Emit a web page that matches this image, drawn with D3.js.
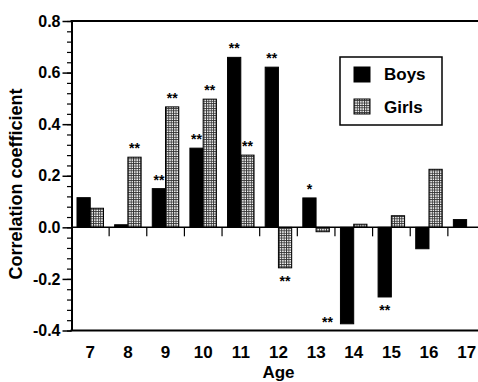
<!DOCTYPE html>
<html>
<head>
<meta charset="utf-8">
<script src="https://cdn.jsdelivr.net/npm/d3@7"></script>
<style>
  body { margin: 0; background: #fff; }
  text { font-family: "Liberation Sans", Arial, sans-serif; font-weight: bold; fill: #000; }
</style>
</head>
<body>
<div id="chart"></div>
<script>
// Data
const ages = [7, 8, 9, 10, 11, 12, 13, 14, 15, 16, 17];
const boys = [0.115, 0.01, 0.15, 0.307, 0.659, 0.621, 0.114, -0.374, -0.27, -0.083, 0.03];
const girls = [0.074, 0.272, 0.467, 0.497, 0.28, -0.157, -0.017, 0.012, 0.045, 0.225, null];
const boysSig = ["", "", "**", "**", "**", "**", "*", "**", "**", "", ""];
const girlsSig = ["", "**", "**", "**", "**", "**", "", "", "", "", ""];
const yTicks = [-0.4, -0.2, 0.0, 0.2, 0.4, 0.6, 0.8];
const series = ["Boys", "Girls"];

const W = 478, H = 382;
const plot = { left: 71.5, right: 485.5, top: 21, bottom: 330.5 };

const svg = d3.select("#chart").append("svg")
    .attr("width", W)
    .attr("height", H);

// stipple pattern for girls
const defs = svg.append("defs");
const pat = defs.append("pattern")
    .attr("id", "grid")
    .attr("patternUnits", "userSpaceOnUse")
    .attr("width", 2.4)
    .attr("height", 2.4);
pat.append("rect").attr("width", 2.4).attr("height", 2.4).attr("fill", "#333");
pat.append("rect").attr("x", 0.9).attr("y", 0.9).attr("width", 1.5).attr("height", 1.5).attr("fill", "#fff");

// Scales
const y = d3.scaleLinear().domain([-0.4, 0.8]).range([plot.bottom, plot.top]);
const x0 = d3.scaleBand().domain(ages).range([plot.left, plot.right]);
const x1 = d3.scaleBand().domain(series).range([5.5, 32]);

const rows = ages.map((a, i) => ({
    age: a,
    vals: [
        { key: "Boys", value: boys[i], sig: boysSig[i] },
        { key: "Girls", value: girls[i], sig: girlsSig[i] }
    ]
}));

// frame lines (top + bottom)
svg.append("line").attr("x1", plot.left - 1).attr("x2", W).attr("y1", plot.top).attr("y2", plot.top)
    .attr("stroke", "#000").attr("stroke-width", 2);
svg.append("line").attr("x1", plot.left - 1).attr("x2", W).attr("y1", plot.bottom).attr("y2", plot.bottom)
    .attr("stroke", "#000").attr("stroke-width", 2);

// Bars
const groups = svg.selectAll(".age")
    .data(rows)
    .enter()
    .append("g")
    .attr("class", "age")
    .attr("transform", d => `translate(${x0(d.age)},0)`);

groups.selectAll("rect")
    .data(d => d.vals.filter(v => v.value !== null))
    .enter()
    .append("rect")
    .attr("x", d => x1(d.key))
    .attr("width", x1.bandwidth())
    .attr("y", d => y(Math.max(0, d.value)))
    .attr("height", d => Math.abs(y(d.value) - y(0)))
    .attr("fill", d => d.key === "Boys" ? "#000" : "url(#grid)")
    .attr("stroke", "#000")
    .attr("stroke-width", 1);

// Significance stars
groups.selectAll(".sig")
    .data(d => d.vals.filter(v => v.sig))
    .enter()
    .append("text")
    .attr("class", "sig")
    .attr("font-size", 14)
    .attr("text-anchor", "middle")
    .each(function(d) {
        const cx = x1(d.key) + x1.bandwidth() / 2;
        let tx = cx, ty;
        if (d.value >= 0) {
            ty = y(d.value) - 4;
        } else if (y(d.value) + 18.5 > plot.bottom) {
            // no room below: put it beside the bar
            tx = x1(d.key) - 13;
            ty = y(d.value) + 3;
        } else {
            ty = y(d.value) + 18.5;
        }
        d3.select(this).attr("x", tx).attr("y", ty);
    })
    .text(d => d.sig);

// zero line + category ticks
svg.append("line").attr("x1", plot.left).attr("x2", W).attr("y1", y(0)).attr("y2", y(0))
    .attr("stroke", "#000").attr("stroke-width", 1.5);
svg.selectAll(".ctick")
    .data(ages.slice(1))
    .enter()
    .append("line")
    .attr("x1", d => x0(d)).attr("x2", d => x0(d))
    .attr("y1", y(0)).attr("y2", y(0) + 9)
    .attr("stroke", "#000").attr("stroke-width", 1.2);

// Y axis: minor ticks
const minor = d3.range(-0.4, 0.8001, 0.04).map(v => +v.toFixed(2));
svg.append("g")
    .attr("transform", `translate(${plot.left},0)`)
    .call(d3.axisLeft(y).tickValues(minor).tickSize(4.5).tickFormat(""))
    .call(g => g.select(".domain").remove())
    .selectAll("line").attr("stroke-width", 1.2);

// Y axis: major ticks
const yAxis = svg.append("g")
    .attr("transform", `translate(${plot.left},0)`)
    .call(d3.axisLeft(y).tickValues(yTicks).tickSize(9).tickSizeOuter(0).tickPadding(2)
        .tickFormat(d => d.toFixed(1)));
yAxis.select(".domain").attr("stroke-width", 2);
yAxis.selectAll("line").attr("stroke-width", 1.5);
yAxis.selectAll("text")
    .attr("font-size", 16)
    .attr("font-family", "Liberation Sans, Arial, sans-serif")
    .attr("font-weight", "bold");

// X labels
svg.selectAll(".xlab")
    .data(ages)
    .enter()
    .append("text")
    .attr("class", "xlab")
    .attr("x", d => x0(d) + x0.bandwidth() / 2)
    .attr("y", 358)
    .attr("text-anchor", "middle")
    .attr("font-size", 17)
    .text(d => d);

// Axis titles
svg.append("text")
    .attr("x", (plot.left + plot.right) / 2)
    .attr("y", 378)
    .attr("text-anchor", "middle")
    .attr("font-size", 17)
    .text("Age");

svg.append("text")
    .attr("transform", "rotate(-90)")
    .attr("x", -184)
    .attr("y", 22)
    .attr("text-anchor", "middle")
    .attr("font-size", 18)
    .text("Correlation coefficient");

// Legend
const legend = svg.append("g").attr("transform", "translate(340,57)");
legend.append("rect")
    .attr("width", 102).attr("height", 68)
    .attr("fill", "#fff").attr("stroke", "#000").attr("stroke-width", 1.5);

series.forEach((key, i) => {
    legend.append("rect")
        .attr("x", 14)
        .attr("y", 10 + i * 32)
        .attr("width", 16)
        .attr("height", 15)
        .attr("fill", key === "Boys" ? "#000" : "url(#grid)")
        .attr("stroke", "#000");
    legend.append("text")
        .attr("x", 44)
        .attr("y", 23 + i * 33)
        .attr("font-size", 17)
        .text(key);
});
</script>
</body>
</html>
